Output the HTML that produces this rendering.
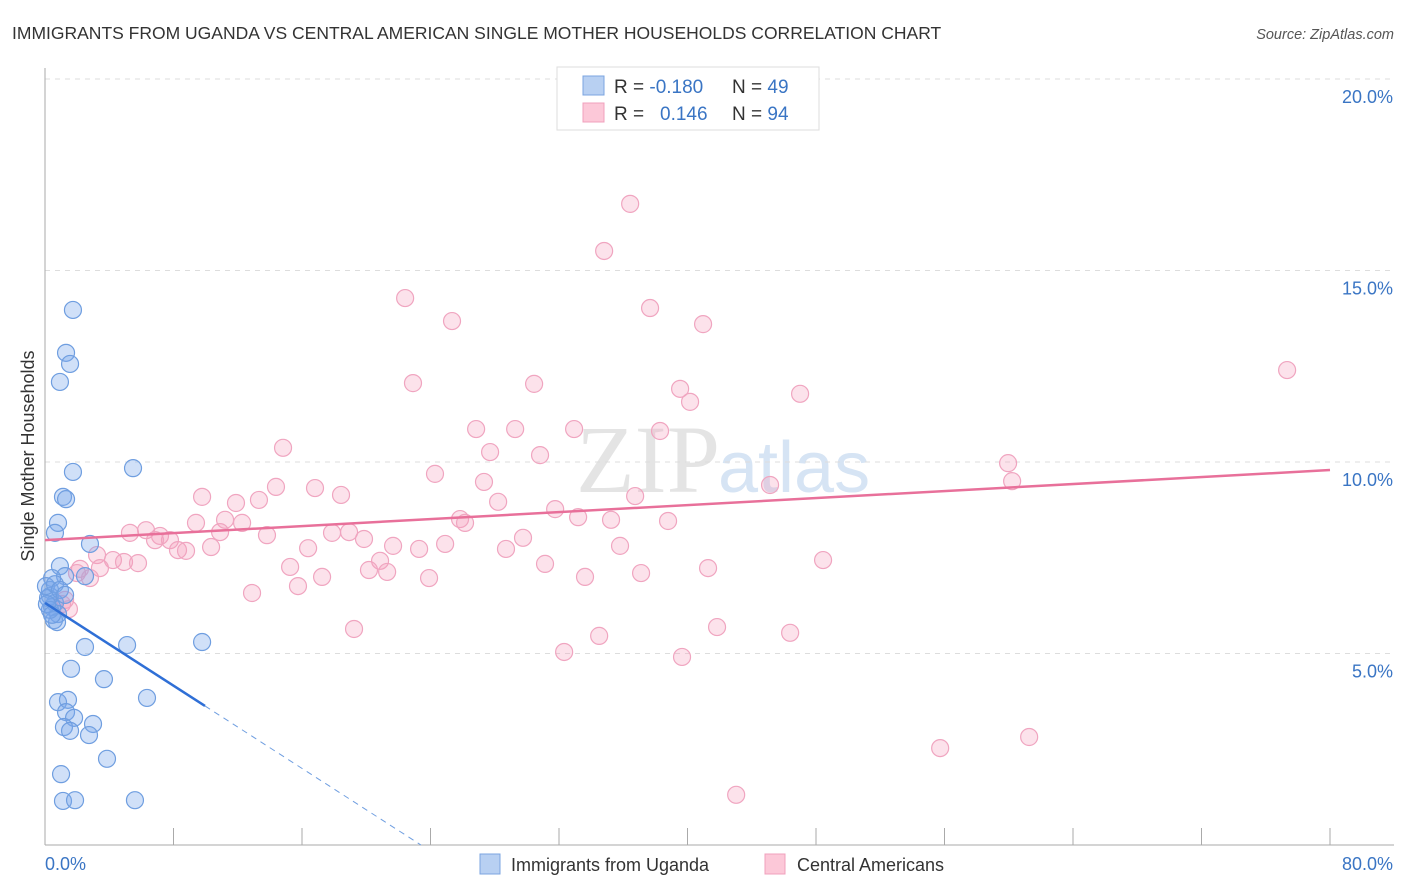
<!DOCTYPE html>
<html><head><meta charset="utf-8"><style>
body{margin:0;background:#fff;font-family:"Liberation Sans",sans-serif;}
svg{display:block}
</style></head><body>
<svg id="chart" width="1406" height="892" xmlns="http://www.w3.org/2000/svg">
<text x="12" y="39" font-size="17.5" fill="#333">IMMIGRANTS FROM UGANDA VS CENTRAL AMERICAN SINGLE MOTHER HOUSEHOLDS CORRELATION CHART</text>
<text x="1394" y="39" font-size="14.5" fill="#555" font-style="italic" text-anchor="end">Source: ZipAtlas.com</text>
<text x="720" y="492" font-size="96" fill="#e4e4e4" font-family="Liberation Serif,serif" text-anchor="end">ZIP</text>
<text x="718" y="492" font-size="72" fill="#d6e4f4">atlas</text>
<g id="grid"></g>
<g id="axes"></g>
<g id="marks"></g>
<text transform="translate(34,456) rotate(-90)" font-size="18" fill="#333" text-anchor="middle">Single Mother Households</text>
<text x="45" y="870" font-size="18" fill="#3a75c4">0.0%</text>
<text x="1393" y="870" font-size="18" fill="#3a75c4" text-anchor="end">80.0%</text>
<g>
<rect x="557" y="67" width="262" height="63" fill="#fff" stroke="#ddd"/>
<rect x="583" y="76" width="21" height="19" fill="#b8d0f2" stroke="#7ba4e0"/>
<rect x="583" y="103" width="21" height="19" fill="#fcc8d8" stroke="#f0a0bc"/>
<text x="614" y="93" font-size="19" fill="#333">R = <tspan fill="#3a75c4">-0.180</tspan><tspan x="732">N = </tspan><tspan fill="#3a75c4">49</tspan></text>
<text x="614" y="120" font-size="19" fill="#333">R = <tspan x="660" fill="#3a75c4">0.146</tspan><tspan x="732">N = </tspan><tspan fill="#3a75c4">94</tspan></text>
</g>
<g>
<rect x="480" y="854" width="20" height="20" fill="#b8d0f2" stroke="#7ba4e0"/>
<text x="511" y="871" font-size="18" fill="#333">Immigrants from Uganda</text>
<rect x="765" y="854" width="20" height="20" fill="#fcc8d8" stroke="#f0a0bc"/>
<text x="797" y="871" font-size="18" fill="#333">Central Americans</text>
</g>
</svg>
<script>
const yTicks=[5,10,15,20];
const yTickLabels=["5.0%","10.0%","15.0%","20.0%"];
const xTicks=[0,8,16,24,32,40,48,56,64,72,80];
const blueX=[1.74,1.31,1.56,0.93,1.74,5.48,1.12,1.31,0.81,0.62,2.80,0.93,1.25,2.49,0.44,0.31,0.31,0.62,0.44,0.81,0.56,0.75,2.49,5.11,9.78,1.62,3.67,6.35,0.81,1.43,1.31,1.81,2.99,1.18,1.56,2.74,3.86,1.00,1.12,1.87,5.60,0.19,0.31,0.06,0.12,0.62,0.93,1.25,0.44];
const blueY=[13.97,12.85,12.56,12.09,9.74,9.84,9.09,9.03,8.41,8.15,7.86,7.28,7.02,7.02,6.97,6.66,6.50,6.32,6.21,6.03,5.87,5.82,5.17,5.22,5.30,4.60,4.33,3.84,3.73,3.79,3.47,3.32,3.16,3.08,2.98,2.87,2.25,1.85,1.15,1.17,1.17,6.45,6.14,6.76,6.29,6.81,6.66,6.53,6.01];
const pinkX=[36.43,34.81,22.42,25.34,37.67,40.97,22.91,30.45,39.54,40.16,47.01,77.33,14.82,26.84,29.27,32.94,38.29,27.71,30.82,59.96,24.28,27.33,45.14,60.21,16.81,14.38,9.78,11.89,13.32,18.43,36.74,28.21,31.76,25.84,33.19,9.40,11.21,12.27,26.15,35.24,38.79,5.29,6.29,7.16,7.78,10.90,13.82,17.87,18.93,19.86,29.76,6.85,8.28,8.78,10.34,16.38,21.67,23.29,24.91,28.70,35.80,3.24,4.23,4.92,5.79,20.86,15.26,20.17,21.30,31.13,41.28,48.44,2.18,3.42,1.99,2.80,17.25,23.91,33.62,37.11,12.89,15.75,1.25,1.06,1.49,19.24,41.84,34.50,46.39,32.32,39.66,55.73,61.27,43.03];
const pinkY=[16.74,15.51,14.28,13.68,14.02,13.60,12.06,12.04,11.91,11.57,11.78,12.40,10.37,10.86,10.86,10.86,10.81,10.26,10.18,9.97,9.69,9.48,9.40,9.50,9.32,9.35,9.09,8.93,9.01,9.14,9.11,8.96,8.77,8.51,8.56,8.41,8.49,8.41,8.41,8.49,8.46,8.15,8.22,8.07,7.96,8.17,8.09,8.15,8.17,7.99,8.02,7.96,7.70,7.68,7.78,7.75,7.81,7.73,7.86,7.73,7.81,7.57,7.44,7.39,7.36,7.42,7.26,7.18,7.13,7.34,7.23,7.44,7.21,7.23,7.10,6.97,7.00,6.97,7.00,7.10,6.58,6.76,6.40,6.29,6.16,5.64,5.69,5.46,5.54,5.04,4.91,2.53,2.82,1.31];
const blueTrend=[6.32,-0.27,9.96];
const pinkTrend=[7.96,9.79];
const NS="http://www.w3.org/2000/svg";
const sx=v=>45+v*(1285/80);
const sy=v=>845-v*38.3;
function mk(tag,attrs,parent){const e=document.createElementNS(NS,tag);for(const k in attrs)e.setAttribute(k,attrs[k]);parent.appendChild(e);return e;}
const grid=document.getElementById('grid'),axes=document.getElementById('axes'),marks=document.getElementById('marks');
yTicks.forEach((t,i)=>{
 const l=mk('line',{x1:45,x2:1394,y1:sy(t),y2:sy(t),stroke:'#ddd','stroke-dasharray':'5,5'},grid);
 
 
 const tx=mk('text',{x:1393,y:sy(t)+24,'font-size':18,fill:'#3a75c4','text-anchor':'end'},grid);
 tx.textContent=yTickLabels[i];
 
 
});
const ya=mk('line',{x1:45,x2:45,y1:68,y2:845,stroke:'#aaa'},axes);


const xa=mk('line',{x1:45,x2:1394,y1:845,y2:845,stroke:'#aaa'},axes);


xTicks.forEach(t=>{
 const l=mk('line',{x1:sx(t),x2:sx(t),y1:828,y2:845,stroke:'#aaa'},axes);
 
 
});
pinkX.forEach((x,i)=>{
 const c=mk('circle',{cx:sx(x),cy:sy(pinkY[i]),r:8.5,fill:'rgba(246,160,188,0.3)',stroke:'#f0a5c0','stroke-width':1.2},marks);
 
 
});
blueX.forEach((x,i)=>{
 const c=mk('circle',{cx:sx(x),cy:sy(blueY[i]),r:8.5,fill:'rgba(120,165,235,0.35)',stroke:'#6f9ee0','stroke-width':1.2},marks);
 
 
});
const pt=mk('line',{x1:sx(0),y1:sy(pinkTrend[0]),x2:sx(80),y2:sy(pinkTrend[1]),stroke:'#e8709a','stroke-width':2.5},marks);


const bEnd=blueTrend[2], bZero=-blueTrend[0]/blueTrend[1];
const bt=mk('line',{x1:sx(0),y1:sy(blueTrend[0]),x2:sx(bEnd),y2:sy(blueTrend[0]+blueTrend[1]*bEnd),stroke:'#2f6fd6','stroke-width':2.5},marks);


const bd=mk('line',{x1:sx(bEnd),y1:sy(blueTrend[0]+blueTrend[1]*bEnd),x2:sx(bZero),y2:sy(0),stroke:'#6f9ee0','stroke-width':1,'stroke-dasharray':'6,5'},marks);


</script>
</body></html>
